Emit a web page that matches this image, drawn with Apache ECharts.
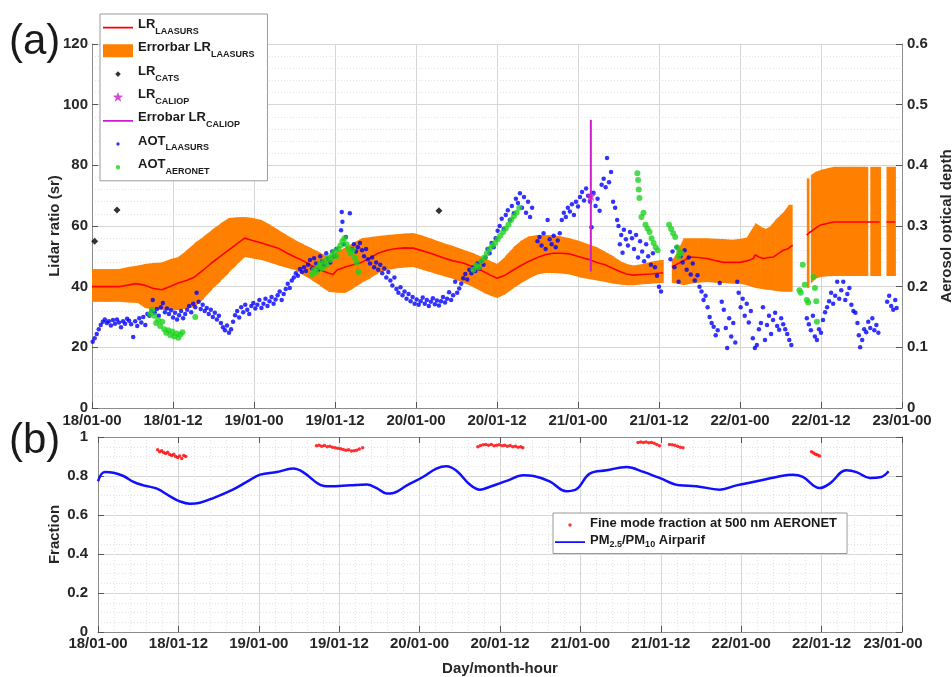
<!DOCTYPE html>
<html>
<head>
<meta charset="utf-8">
<script src="https://cdn.jsdelivr.net/npm/echarts@6/dist/echarts.min.js"></script>
<style>
  html, body { margin: 0; padding: 0; background: #ffffff; }
  #chart { width: 952px; height: 677px; }
</style>
</head>
<body>
<div id="chart"></div>
<script>
// All x positions are hours elapsed since 18/01 00:00.
const dayTickLabels = ['18/01-00', '18/01-12', '19/01-00', '19/01-12', '20/01-00', '20/01-12',
  '21/01-00', '21/01-12', '22/01-00', '22/01-12', '23/01-00'];

// LAASURS lidar ratio (sr); null breaks the line
const lrHour = [0, 2, 4, 5.3, 6.5, 7.8, 9, 10.3, 11.5, 12.75, 14, 15.2, 16.5, 17.7, 19, 20.2, 21.5, 22.6, 23.8, 25.1,
  26.4, 27.6, 28.8, 30.05, 31.3, 32.5, 33.8, 35, 35.7, 36.3, 37.5, 38.7, 39.9, 41.2, 42.4, 43.7, 44.9, 46.3, 47.6, 49,
  50.5, 52, 53.5, 55, 56.5, 58, 59, 60, 61.2, 62.4, 63.4, 64.6, 65.9, 67.1, 68.3, 69.5, 70.8, 72.3, 73.5, 74.8,
  76, 77.2, 78.2, 79.2, 80.2, 81.5, 82.8, 84.2, 84.6, 85.2, 85.9, 86.5, 87.6, 88.6, 89.8, 91.1, 92.3, 93.55, 94.8, 96,
  97, 98, 98.25, 98.8, 99.5, 100.2, 101, 101.7, 102.4, 103.1, 103.8, 104.8, 105.9, 106.2, 106.7, 107.3, 107.9, 108.9, 109.9, 111.5,
  113, 114.5, 116, 116.7, 117.2, 117.7, 119];
const lrValue = [40, 40, 40, 40.5, 41, 40.5, 39.5, 39, 40, 41.2, 42, 43.2, 45.5, 47.8, 50, 52, 54.2, 56, 55.2, 54.4,
  53.5, 52.7, 51.2, 49.8, 48.5, 47, 45.5, 44.5, 44, 45.5, 46.5, 47.2, 48, 49.5, 51, 52, 52.5, 52.8, 52.7, 51.8,
  50.8, 49.5, 48.5, 47.8, 46.5, 45, 43.8, 42.8, 43.8, 45.5, 46.8, 48.2, 49.5, 50.5, 51, 51, 50.8, 49.8, 49, 48,
  47.2, 46, 45, 44.2, 43.8, 44, 44.2, 44.5, 44.6, null, 46.5, 47.2, 48.5, 49.8, 49.6, 49.3, 48.6, 48, 48, 48,
  48.5, 49.3, 50.5, 49.8, 49.3, 49.6, 49.8, 51, 52, 52.5, 53.7, null, 57, 57.7, 58.5, 59.5, 60.3, 60.8, 61.3, 61.3,
  61.3, 61.3, 61.3, 61.3, null, 61.3, 61.3];

// LAASURS lidar ratio uncertainty bounds at bandHour[i]; a null bound closes a run
const bandHour = [0, 2, 4, 5.3, 6.8, 7.8, 9, 10.3, 11.5, 12.75, 14, 15.2, 16.5, 17.7, 19, 20.2, 21.4, 22.6, 23.8, 25.1,
  26.4, 27.6, 28.8, 30.05, 31.3, 32.5, 33.8, 35, 36.2, 37.5, 38.7, 39.9, 41.2, 42.4, 43.7, 44.9, 46.3, 47.6, 49, 50.5,
  52, 53.5, 55, 56.5, 58, 59, 60, 61.2, 62.4, 63.4, 64.6, 65.9, 67.1, 68.3, 69.5, 70.8, 72.3, 73.5, 74.8, 76,
  77.2, 78.2, 79.2, 80.2, 81.5, 82.8, 84.2, 84.7,
  85.9, 86.8, 87.6, 88.6, 89.8, 91.1, 92.3, 93.55, 94.8, 96, 97, 98.25, 99, 99.8, 100.5, 101.2, 101.9, 102.6, 103.2, 103.8,
  105.9, 106.3, 106.5, 107.1, 107.9, 108.9, 109.9, 111.5, 113, 114.5, 115.0, 115.3, 116, 116.9, 117.7, 119.1];
const bandLow = [35, 35, 35, 34.8, 34.6, 33, 32.5, 32.3, 32.3, 32.3, 32.8, 33.3, 36, 39, 41.8, 44.5, 47.2, 49.8, 49.3, 48.8,
  47.9, 47, 46.2, 45.5, 43.8, 42.2, 40.2, 38.3, 38, 37.9, 39.5, 41.2, 42.8, 44.5, 45.5, 46, 46.3, 46.5, 45.5, 44.5,
  43.5, 42.5, 41.3, 39.8, 38, 37, 36.3, 37.5, 39.5, 41, 42.5, 44, 44.5, 44.5, 44.3, 44, 43, 42.5, 42, 41.5,
  41, 40.7, 40.5, 40.5, 40.8, 41, 41.2, null,
  41.2, 41, 40.5, 41, 41.3, 41.5, 41.3, 41.2, 41, 41, 40.5, 39.6, 39.3, 39, 38.9, 38.6, 38.4, 38.3, 38.3, null,
  39.6, null, 41, 42.5, 43.2, 43.4, 43.5, 43.5, 43.5, 43.5, null, 43.5, 43.5, null, 43.5, null];
const bandHigh = [45.8, 45.8, 45.8, 46.5, 47, 47.5, 47.8, 48, 49, 49.8, 52, 54.4, 56.5, 58.7, 60.8, 62.6, 62.9, 63, 62.6, 62,
  60.3, 58.7, 57, 55.4, 54, 52.7, 51.2, 49.8, 51.5, 53, 54.5, 56, 56.4, 56.7, 57, 57.3, 57.5, 57.7, 56.8, 55.6,
  54.4, 53.4, 52.2, 51, 49.5, 48.5, 47.5, 50, 53, 55, 56.5, 57, 57, 57, 56.5, 56, 55, 54, 53, 51.5,
  50, 48.5, 47.5, 47, 47.5, 48.2, 48.8, null,
  48.5, 52, 56, 56, 56, 56, 55.8, 55.7, 55.5, 55.8, 56.2, 61, 59.8, 59, 60, 62, 63.5, 65, 67, null,
  75.7, null, 76.8, 77.8, 78.5, 79, 79.5, 79.5, 79.5, 79.5, null, 79.5, 79.5, null, 79.5, null];

// CATS and CALIOP lidar ratios (sr)
const catsHour = [0.4, 3.7, 51.4];
const catsLR = [55, 65.3, 65];
const caliopHour = [73.9];
const caliopLR = [70];
const caliopLow = [45];
const caliopHigh = [95];

// Aerosol optical thickness [hour, AOT]
const aotLaasurs = [
  [0.1, 0.109], [0.4, 0.115], [0.7, 0.122], [1.0, 0.13], [1.3, 0.137], [1.6, 0.142], [1.9, 0.146], [2.2, 0.14], [2.5, 0.143], [2.8, 0.136],
  [3.1, 0.145], [3.4, 0.139], [3.7, 0.146], [4.0, 0.141], [4.3, 0.133], [4.6, 0.143], [4.9, 0.139], [5.2, 0.147], [5.5, 0.144], [5.8, 0.138],
  [6.1, 0.117], [6.4, 0.143], [6.7, 0.135], [7.0, 0.148], [7.3, 0.141], [7.6, 0.15], [7.9, 0.137], [8.2, 0.155],
  [8.5, 0.152], [8.8, 0.16], [9.0, 0.178], [9.3, 0.157], [9.6, 0.163], [9.9, 0.152], [10.2, 0.166], [10.5, 0.173], [10.8, 0.158], [11.1, 0.164],
  [11.4, 0.155], [11.7, 0.161], [12.0, 0.149], [12.3, 0.157], [12.6, 0.146], [12.9, 0.153], [13.2, 0.16], [13.5, 0.148], [13.8, 0.155], [14.1, 0.162],
  [14.4, 0.168], [14.7, 0.158], [15.0, 0.172], [15.3, 0.166], [15.5, 0.19], [15.8, 0.175], [16.1, 0.163], [16.4, 0.17],
  [16.7, 0.16], [17.0, 0.165], [17.3, 0.155], [17.6, 0.162], [17.9, 0.15], [18.2, 0.157], [18.5, 0.146], [18.8, 0.152], [19.1, 0.14], [19.4, 0.133],
  [19.7, 0.128], [20.0, 0.136], [20.3, 0.124], [20.6, 0.13],
  [20.9, 0.142], [21.2, 0.153], [21.5, 0.16], [21.8, 0.149], [22.1, 0.166], [22.4, 0.158], [22.7, 0.17], [23.0, 0.162], [23.3, 0.155], [23.6, 0.168],
  [23.9, 0.173], [24.2, 0.164], [24.5, 0.17], [24.8, 0.178], [25.1, 0.165], [25.4, 0.172], [25.7, 0.18], [26.0, 0.168], [26.3, 0.176], [26.6, 0.183],
  [26.9, 0.172], [27.2, 0.179],
  [27.5, 0.186], [27.8, 0.192], [28.1, 0.178], [28.4, 0.188], [28.7, 0.196], [29.0, 0.205], [29.3, 0.198], [29.6, 0.21], [29.9, 0.215], [30.2, 0.222],
  [30.5, 0.218], [30.8, 0.229], [31.1, 0.224], [31.4, 0.232], [31.7, 0.226],
  [32.0, 0.236], [32.3, 0.244], [32.6, 0.23], [32.9, 0.247], [33.2, 0.238], [33.5, 0.228], [33.8, 0.25], [34.1, 0.242], [34.4, 0.235], [34.7, 0.255],
  [35.0, 0.246], [35.3, 0.24], [35.6, 0.258], [35.9, 0.25], [36.2, 0.262], [36.9, 0.293], [37.0, 0.323], [37.1, 0.307], [37.3, 0.27], [37.6, 0.282],
  [38.2, 0.321], [38.5, 0.262], [38.8, 0.27], [39.1, 0.258], [39.4, 0.265],
  [39.7, 0.272], [40.0, 0.26], [40.3, 0.25], [40.6, 0.262], [40.9, 0.245], [41.2, 0.238], [41.5, 0.248], [41.8, 0.232], [42.1, 0.24], [42.4, 0.228],
  [42.7, 0.236], [43.0, 0.222], [43.3, 0.23], [43.6, 0.215], [43.9, 0.224], [44.2, 0.21], [44.5, 0.202], [44.8, 0.215],
  [45.1, 0.196], [45.4, 0.19], [45.7, 0.199], [46.0, 0.186], [46.3, 0.192], [46.6, 0.18], [46.9, 0.188], [47.2, 0.176], [47.5, 0.183], [47.8, 0.172],
  [48.1, 0.179], [48.4, 0.17], [48.7, 0.176], [49.0, 0.182], [49.3, 0.172], [49.6, 0.178], [49.9, 0.168], [50.2, 0.175], [50.5, 0.181], [50.8, 0.171],
  [51.1, 0.177], [51.4, 0.169], [51.7, 0.176], [52.0, 0.183], [52.3, 0.174], [52.6, 0.18], [52.9, 0.191], [53.2, 0.178], [53.5, 0.186], [53.8, 0.208],
  [54.1, 0.19],
  [54.4, 0.197], [54.7, 0.205], [55.0, 0.214], [55.3, 0.221], [55.6, 0.212], [55.9, 0.228], [56.2, 0.222], [56.5, 0.232], [56.8, 0.226], [57.1, 0.238],
  [57.4, 0.23], [57.7, 0.242], [58.0, 0.236], [58.3, 0.248], [58.6, 0.262], [58.9, 0.255], [59.2, 0.272], [59.5, 0.265], [59.8, 0.28], [60.1, 0.292],
  [60.4, 0.3], [60.7, 0.312], [61.0, 0.295], [61.3, 0.318], [61.6, 0.326], [61.9, 0.31], [62.2, 0.333], [62.5, 0.321], [62.8, 0.345], [63.1, 0.338],
  [63.4, 0.354], [63.7, 0.33], [64.0, 0.348], [64.3, 0.322], [64.6, 0.34], [64.9, 0.315], [65.2, 0.33],
  [66.0, 0.275], [66.3, 0.282], [66.6, 0.268], [66.9, 0.288], [67.2, 0.262], [67.5, 0.31], [67.8, 0.278], [68.1, 0.27], [68.4, 0.284], [68.7, 0.265],
  [69.0, 0.276], [69.3, 0.288],
  [69.6, 0.31], [69.9, 0.322], [70.2, 0.315], [70.5, 0.33], [70.8, 0.324], [71.1, 0.336], [71.4, 0.318], [71.7, 0.34], [72.0, 0.332], [72.3, 0.348],
  [72.6, 0.356], [72.9, 0.342], [73.2, 0.362], [73.5, 0.35], [73.8, 0.34], [74.0, 0.298], [74.3, 0.355], [74.6, 0.333], [74.9, 0.345], [75.2, 0.325],
  [75.5, 0.368], [75.8, 0.378], [76.1, 0.364], [76.3, 0.412], [76.6, 0.372], [76.9, 0.389], [77.2, 0.34], [77.5, 0.33], [77.8, 0.31], [78.0, 0.3],
  [78.2, 0.27], [78.4, 0.285], [78.6, 0.256], [78.8, 0.294], [79.1, 0.278], [79.4, 0.268], [79.7, 0.29], [80.0, 0.28], [80.3, 0.262], [80.6, 0.285],
  [80.9, 0.248], [81.2, 0.275], [81.5, 0.258], [81.8, 0.242], [82.1, 0.27], [82.4, 0.25], [82.8, 0.236], [83.1, 0.255], [83.4, 0.232], [83.7, 0.218],
  [84.0, 0.2], [84.3, 0.192],
  [85.7, 0.245], [86.0, 0.258], [86.3, 0.232], [86.6, 0.265], [86.9, 0.208], [87.2, 0.25], [87.5, 0.24], [87.8, 0.26], [88.1, 0.228], [88.4, 0.248],
  [88.7, 0.22], [89.0, 0.238], [89.3, 0.21], [89.7, 0.219], [90.0, 0.2], [90.3, 0.192], [90.6, 0.178], [90.9, 0.185], [91.2, 0.166], [91.5, 0.15],
  [91.8, 0.14], [92.1, 0.134], [92.4, 0.12], [92.7, 0.128], [93.0, 0.206], [93.3, 0.175], [93.6, 0.162], [93.9, 0.132], [94.1, 0.099], [94.4, 0.148],
  [94.7, 0.118], [95.0, 0.14], [95.3, 0.108], [95.6, 0.208], [95.8, 0.19], [96.1, 0.166], [96.4, 0.18], [96.7, 0.152], [97.0, 0.172], [97.3, 0.141],
  [97.6, 0.16], [97.9, 0.115], [98.2, 0.099], [98.5, 0.104], [98.8, 0.13], [99.1, 0.14], [99.4, 0.166], [99.7, 0.112], [100.0, 0.137], [100.3, 0.152],
  [100.6, 0.122], [100.9, 0.145], [101.2, 0.157], [101.5, 0.135], [101.8, 0.129], [102.1, 0.148], [102.4, 0.138], [102.7, 0.13], [103.0, 0.122], [103.3, 0.112],
  [103.6, 0.104],
  [105.9, 0.148], [106.2, 0.138], [106.5, 0.128], [106.8, 0.152], [107.1, 0.118], [107.4, 0.112], [107.7, 0.13], [108.0, 0.124], [108.3, 0.145], [108.6, 0.158],
  [108.9, 0.166], [109.2, 0.176], [109.5, 0.19], [109.8, 0.172], [110.1, 0.185], [110.4, 0.208], [110.7, 0.18], [111.0, 0.194], [111.3, 0.208], [111.6, 0.178],
  [111.9, 0.188], [112.2, 0.198], [112.5, 0.17], [112.8, 0.16], [113.1, 0.157], [113.4, 0.14], [113.6, 0.12], [113.8, 0.1], [114.1, 0.112], [114.4, 0.13],
  [114.7, 0.125], [115.0, 0.142], [115.3, 0.132], [115.6, 0.148], [115.9, 0.128], [116.2, 0.137], [116.5, 0.124],
  [117.8, 0.175], [118.1, 0.185], [118.4, 0.168], [118.7, 0.162], [119.0, 0.178], [119.2, 0.165]
];
const aotAeronet = [
  [8.6, 0.155], [8.9, 0.162], [9.2, 0.152], [9.5, 0.14], [9.8, 0.145], [10.1, 0.135], [10.4, 0.142], [10.7, 0.13], [11.0, 0.124], [11.3, 0.128],
  [11.6, 0.12], [11.9, 0.126], [12.2, 0.118], [12.5, 0.123], [12.8, 0.116], [13.1, 0.121], [13.4, 0.125], [15.3, 0.15],
  [32.6, 0.22], [32.9, 0.228], [33.2, 0.224], [33.5, 0.232], [33.8, 0.238], [34.1, 0.23], [34.4, 0.242], [34.7, 0.236], [35.0, 0.248], [35.3, 0.244],
  [35.6, 0.252], [35.9, 0.258], [36.2, 0.25], [36.5, 0.262], [36.8, 0.268], [37.1, 0.275], [37.4, 0.28], [37.7, 0.27], [38.0, 0.262], [38.3, 0.255],
  [38.6, 0.26], [38.9, 0.248], [39.2, 0.24], [39.5, 0.224],
  [56.5, 0.228], [56.9, 0.235], [57.3, 0.232], [57.7, 0.242], [58.1, 0.248], [58.5, 0.255], [58.9, 0.262], [59.3, 0.268], [59.7, 0.272], [60.1, 0.278],
  [60.5, 0.284], [60.9, 0.29], [61.3, 0.296], [61.7, 0.302], [62.1, 0.31], [62.5, 0.316], [62.9, 0.322], [63.3, 0.33],
  [80.8, 0.387], [80.9, 0.376], [81.0, 0.36], [81.1, 0.346], [81.4, 0.315], [81.7, 0.322], [82.0, 0.302], [82.3, 0.296], [82.6, 0.29], [82.9, 0.28],
  [83.2, 0.272], [83.5, 0.265], [83.8, 0.26],
  [85.5, 0.302], [85.8, 0.295], [86.1, 0.288], [86.4, 0.282], [86.7, 0.265], [86.9, 0.25], [87.0, 0.258], [87.3, 0.255],
  [104.8, 0.194], [105.0, 0.19], [105.3, 0.236], [105.6, 0.203], [105.9, 0.178], [106.1, 0.174], [106.9, 0.216], [107.1, 0.198], [107.3, 0.176], [107.4, 0.142]
];

// Fine mode fraction at 500 nm (AERONET) [hour, fraction]
const fmfAeronet = [
  [8.9, 0.935], [9.2, 0.925], [9.5, 0.93], [9.8, 0.92], [10.1, 0.915], [10.4, 0.922], [10.7, 0.91], [11.0, 0.905], [11.3, 0.912], [11.6, 0.9],
  [11.9, 0.895], [12.2, 0.902], [12.5, 0.89], [12.8, 0.905], [13.1, 0.9],
  [32.6, 0.955], [33.0, 0.958], [33.4, 0.952], [33.8, 0.956], [34.2, 0.95], [34.6, 0.953], [35.0, 0.948], [35.4, 0.945], [35.8, 0.942], [36.2, 0.94],
  [36.6, 0.936], [37.0, 0.932], [37.4, 0.935], [37.8, 0.928], [38.2, 0.93], [38.6, 0.932], [39.0, 0.938], [39.5, 0.945],
  [56.7, 0.95], [57.1, 0.956], [57.5, 0.96], [57.9, 0.962], [58.3, 0.958], [58.7, 0.962], [59.1, 0.955], [59.5, 0.958], [59.9, 0.96], [60.3, 0.955],
  [60.7, 0.958], [61.1, 0.952], [61.5, 0.956], [61.9, 0.95], [62.3, 0.953], [62.7, 0.948], [63.1, 0.95], [63.4, 0.945],
  [80.6, 0.972], [81.0, 0.975], [81.4, 0.972], [81.8, 0.974], [82.2, 0.97], [82.6, 0.972], [83.0, 0.968], [83.4, 0.962], [83.8, 0.955],
  [85.3, 0.962], [85.7, 0.96], [86.1, 0.958], [86.5, 0.952], [86.9, 0.948], [87.3, 0.945],
  [106.5, 0.925], [106.8, 0.918], [107.1, 0.912], [107.4, 0.908], [107.7, 0.902]
];

// PM2.5 / PM10 ratio from Airparif [hour, ratio]
const pmRatio = [
  [0, 0.773], [1, 0.82], [2.3, 0.817], [3.8, 0.8], [5.3, 0.77], [6.8, 0.752], [8.8, 0.735], [10.7, 0.697], [12.2, 0.67], [13.7, 0.658],
  [15.2, 0.663], [17.2, 0.687], [20.2, 0.732], [22.2, 0.77], [24.2, 0.807], [26.7, 0.82], [29.1, 0.838], [30.6, 0.82], [33.1, 0.756], [34.6, 0.747],
  [37.6, 0.752], [40.1, 0.756], [41.6, 0.738], [43.1, 0.71], [44.1, 0.713], [46.1, 0.752], [48.5, 0.795], [50.5, 0.838], [52, 0.85], [53.5, 0.827],
  [55.5, 0.756], [57, 0.73], [58.5, 0.745], [61, 0.775], [63.5, 0.804], [65, 0.8], [67.4, 0.773], [69.9, 0.722], [71.4, 0.732], [73.4, 0.812],
  [75.9, 0.829], [78.9, 0.846], [81.4, 0.821], [83.8, 0.79], [86.8, 0.752], [89.3, 0.748], [92.8, 0.73], [95.3, 0.752], [98.3, 0.773], [101.3, 0.795],
  [103.7, 0.807], [105.2, 0.795], [107.7, 0.738], [109.2, 0.761], [111.7, 0.829], [113.2, 0.82], [115.2, 0.79], [116.9, 0.795], [118, 0.824]
];

// ---- styling ----
const FONT = 'Liberation Sans, Arial, Helvetica, sans-serif';
const TXT = '#262626';
const AXIS = '#8c8c8c';
const GRID_MAJOR = '#d6d6d6';
const GRID_MINOR = '#e3e3e3';
const labelStyle = { color: TXT, fontFamily: FONT, fontWeight: 'bold', fontSize: 15 };
const nameStyle = { color: TXT, fontFamily: FONT, fontWeight: 'bold', fontSize: 15 };

// legend icons drawn in a 30x14 box (two invisible corner specks fix the box size)
const BOX = 'M0,0h0.01v0.01h-0.01zM29.99,13.99h0.01v0.01h-0.01z';
const ICON_LINE = 'path://' + BOX + 'M0,6.2h30v1.8h-30z';
const ICON_RECT = 'path://' + BOX + 'M0,0.5h30v13h-30z';
const ICON_DIAMOND = 'path://' + BOX + 'M15,4.2L17.8,7L15,9.8L12.2,7z';
const STAR = 'M15,1.5L16.29,5.22L20.23,5.3L17.09,7.68L18.23,11.45L15,9.2L11.77,11.45L12.91,7.68L9.77,5.3L13.71,5.22Z';
const ICON_STAR = 'path://' + BOX + STAR;
const ICON_DOT = 'path://' + BOX + 'M13.3,7a1.7,1.7 0 1,0 3.4,0a1.7,1.7 0 1,0 -3.4,0z';
const ICON_DOT_BIG = 'path://' + BOX + 'M12.8,7a2.2,2.2 0 1,0 4.4,0a2.2,2.2 0 1,0 -4.4,0z';

const legendText = {
  'LR_LAASURS': '{m|LR}{s|LAASURS}',
  'Errorbar LR_LAASURS': '{m|Errorbar LR}{s|LAASURS}',
  'LR_CATS': '{m|LR}{s|CATS}',
  'LR_CALIOP': '{m|LR}{s|CALIOP}',
  'Errobar LR_CALIOP': '{m|Errobar LR}{s|CALIOP}',
  'AOT_LAASURS': '{m|AOT}{s|LAASURS}',
  'AOT_AERONET': '{m|AOT}{s|AERONET}',
  'FMF': '{m|Fine mode fraction at 500 nm AERONET}',
  'PM': '{m|PM}{s|2.5}{m|/PM}{s|10}{m| Airparif}'
};

// band pieces: [hourStart, hourEnd, lowStart, highStart, lowEnd, highEnd, joinsNext]
const bandData = [];
for (let i = 0; i < bandHour.length - 1; i++) {
  if (bandLow[i] == null) continue;
  const joins = bandLow[i + 1] != null;
  bandData.push([bandHour[i], bandHour[i + 1], bandLow[i], bandHigh[i],
    joins ? bandLow[i + 1] : bandLow[i], joins ? bandHigh[i + 1] : bandHigh[i], joins ? 1 : 0]);
}
const lrData = lrHour.map((h, i) => [h, lrValue[i]]);
const catsData = catsHour.map((h, i) => [h, catsLR[i]]);
const caliopData = caliopHour.map((h, i) => [h, caliopLR[i]]);
const caliopErrData = [[caliopHour[0], caliopLow[0]], [caliopHour[0], caliopHigh[0]]];

function hourLabel(v) {
  const k = Math.round(v / 12);
  return dayTickLabels[k] || '';
}

const chart = echarts.init(document.getElementById('chart'), null, { renderer: 'canvas' });

const option = {
  animation: false,
  backgroundColor: '#ffffff',
  textStyle: { fontFamily: FONT },
  grid: [
    { left: 92, right: 50, top: 44, height: 364, outerBoundsMode: 'none', containLabel: false },
    { left: 98, right: 50, top: 437, height: 195, outerBoundsMode: 'none', containLabel: false }
  ],
  xAxis: [
    {
      gridIndex: 0, type: 'value', position: 'bottom', min: 0, max: 120, interval: 12,
      axisLine: { show: true, onZero: false, lineStyle: { color: AXIS } },
      axisTick: { show: true, inside: true, length: 6, lineStyle: { color: '#555' } },
      axisLabel: Object.assign({}, labelStyle, { margin: 5, formatter: hourLabel }),
      splitLine: { show: true, lineStyle: { color: GRID_MAJOR, width: 1 } }
    },
    {
      gridIndex: 1, type: 'value', position: 'bottom', min: 0, max: 120, interval: 12,
      name: 'Day/month-hour', nameLocation: 'middle', nameGap: 29, nameMoveOverlap: false, nameTextStyle: nameStyle,
      axisLine: { show: true, onZero: false, lineStyle: { color: AXIS } },
      axisTick: { show: true, inside: true, length: 6, lineStyle: { color: '#555' } },
      axisLabel: Object.assign({}, labelStyle, {
        margin: 4,
        formatter: v => (v === 120 ? '{end|' + dayTickLabels[10] + '}' : hourLabel(v)),
        rich: { end: { color: TXT, fontFamily: FONT, fontWeight: 'bold', fontSize: 15, padding: [0, 18, 0, 0] } }
      }),
      splitLine: { show: true, lineStyle: { color: GRID_MAJOR } },
      minorTick: { show: false, splitNumber: 5 },
      minorSplitLine: { show: true, lineStyle: { color: GRID_MINOR, type: [1, 2] } }
    },
    {
      gridIndex: 1, type: 'value', position: 'top', min: 0, max: 120, interval: 12,
      axisLine: { show: true, onZero: false, lineStyle: { color: AXIS } },
      axisTick: { show: true, inside: true, length: 6, lineStyle: { color: '#555' } },
      axisLabel: { show: false }, splitLine: { show: false }
    }
  ],
  yAxis: [
    {
      gridIndex: 0, type: 'value', position: 'left', min: 0, max: 120, interval: 20,
      name: 'Lidar ratio (sr)', nameLocation: 'middle', nameGap: 30, nameRotate: 90, nameMoveOverlap: false, nameTextStyle: nameStyle,
      axisLine: { show: true, onZero: false, lineStyle: { color: AXIS } },
      axisTick: { show: true, inside: true, length: 6, lineStyle: { color: '#555' } },
      axisLabel: Object.assign({}, labelStyle, { margin: 4 }),
      splitLine: { show: true, lineStyle: { color: GRID_MAJOR } },
      minorTick: { show: false, splitNumber: 5 },
      minorSplitLine: { show: true, lineStyle: { color: GRID_MINOR, type: [1, 2] } }
    },
    {
      gridIndex: 0, type: 'value', position: 'right', min: 0, max: 0.6, interval: 0.1,
      name: 'Aerosol optical depth', nameLocation: 'middle', nameGap: 37, nameRotate: 90, nameMoveOverlap: false, nameTextStyle: nameStyle,
      axisLine: { show: true, onZero: false, lineStyle: { color: AXIS } },
      axisTick: { show: true, inside: true, length: 6, lineStyle: { color: '#555' } },
      axisLabel: Object.assign({}, labelStyle, { margin: 5 }),
      splitLine: { show: false }
    },
    {
      gridIndex: 1, type: 'value', position: 'left', min: 0, max: 1, interval: 0.2,
      name: 'Fraction', nameLocation: 'middle', nameGap: 36, nameRotate: 90, nameMoveOverlap: false, nameTextStyle: nameStyle,
      axisLine: { show: true, onZero: false, lineStyle: { color: AXIS } },
      axisTick: { show: true, inside: true, length: 6, lineStyle: { color: '#555' } },
      axisLabel: Object.assign({}, labelStyle, { margin: 10 }),
      splitLine: { show: true, lineStyle: { color: GRID_MAJOR } },
      minorTick: { show: false, splitNumber: 4 },
      minorSplitLine: { show: true, lineStyle: { color: GRID_MINOR, type: [1, 2] } }
    },
    {
      gridIndex: 1, type: 'value', position: 'right', min: 0, max: 1, interval: 0.2,
      axisLine: { show: true, onZero: false, lineStyle: { color: AXIS } },
      axisTick: { show: true, inside: true, length: 6, lineStyle: { color: '#555' } },
      axisLabel: { show: false }, splitLine: { show: false }
    }
  ],
  legend: [
    {
      left: 100, top: 14, orient: 'vertical', padding: [4, 13, 5, 3], itemGap: 5.3,
      itemWidth: 30, itemHeight: 14, selectedMode: false,
      backgroundColor: '#ffffff', borderColor: '#9a9a9a', borderWidth: 1,
      itemStyle: { borderWidth: 0 },
      formatter: name => legendText[name],
      textStyle: {
        color: '#1a1a1a', fontFamily: FONT, fontWeight: 'bold', fontSize: 13,
        rich: {
          m: { color: '#1a1a1a', fontFamily: FONT, fontWeight: 'bold', fontSize: 13, padding: [0, 0, 6, 0] },
          s: { color: '#1a1a1a', fontFamily: FONT, fontWeight: 'bold', fontSize: 9, padding: [8, 0, 0, 0] }
        }
      },
      data: [
        { name: 'LR_LAASURS', icon: ICON_LINE },
        { name: 'Errorbar LR_LAASURS', icon: ICON_RECT },
        { name: 'LR_CATS', icon: ICON_DIAMOND },
        { name: 'LR_CALIOP', icon: ICON_STAR },
        { name: 'Errobar LR_CALIOP', icon: ICON_LINE },
        { name: 'AOT_LAASURS', icon: ICON_DOT },
        { name: 'AOT_AERONET', icon: ICON_DOT_BIG }
      ]
    },
    {
      left: 553, top: 513, orient: 'vertical', padding: [4, 10, 4, 2], itemGap: 2,
      itemWidth: 30, itemHeight: 14, selectedMode: false,
      backgroundColor: '#ffffff', borderColor: '#9a9a9a', borderWidth: 1,
      itemStyle: { borderWidth: 0 },
      formatter: name => legendText[name],
      textStyle: {
        color: '#1a1a1a', fontFamily: FONT, fontWeight: 'bold', fontSize: 13,
        rich: {
          m: { color: '#1a1a1a', fontFamily: FONT, fontWeight: 'bold', fontSize: 13, padding: [0, 0, 3, 0] },
          s: { color: '#1a1a1a', fontFamily: FONT, fontWeight: 'bold', fontSize: 9, padding: [6, 0, 0, 0] }
        }
      },
      data: [
        { name: 'FMF', icon: ICON_DOT },
        { name: 'PM', icon: ICON_LINE }
      ]
    }
  ],
  graphic: [
    { type: 'text', left: 9, top: 21, style: { text: '(a)', fontFamily: FONT, fontSize: 42, fill: '#1a1a1a' } },
    { type: 'text', left: 9, top: 420, style: { text: '(b)', fontFamily: FONT, fontSize: 42, fill: '#1a1a1a' } }
  ],
  series: [
    {
      name: 'Errorbar LR_LAASURS', type: 'custom', xAxisIndex: 0, yAxisIndex: 0,
      data: bandData, encode: { x: [0, 1], y: [2, 3, 4, 5] },
      itemStyle: { color: '#ff8000' }, silent: true, z: 1,
      renderItem: function (params, api) {
        const a = api.coord([api.value(0), api.value(3)]);
        const b = api.coord([api.value(1), api.value(5)]);
        const c = api.coord([api.value(1), api.value(4)]);
        const d = api.coord([api.value(0), api.value(2)]);
        const pad = api.value(6) ? 0.6 : 0;
        return {
          type: 'polygon',
          shape: { points: [a, [b[0] + pad, b[1]], [c[0] + pad, c[1]], d] },
          style: { fill: '#ff8000' }
        };
      }
    },
    {
      name: 'LR_LAASURS', type: 'line', xAxisIndex: 0, yAxisIndex: 0, data: lrData,
      symbol: 'none', connectNulls: false, z: 2,
      itemStyle: { color: '#ff0000' }, lineStyle: { color: '#ff0000', width: 1.6 }
    },
    {
      name: 'AOT_LAASURS', type: 'scatter', xAxisIndex: 0, yAxisIndex: 1, data: aotLaasurs,
      symbol: 'circle', symbolSize: 4.5, itemStyle: { color: '#0000ff' }, z: 3
    },
    {
      name: 'AOT_AERONET', type: 'scatter', xAxisIndex: 0, yAxisIndex: 1, data: aotAeronet,
      symbol: 'circle', symbolSize: 6, itemStyle: { color: '#1fd21f' }, z: 4
    },
    {
      name: 'LR_CATS', type: 'scatter', xAxisIndex: 0, yAxisIndex: 0, data: catsData,
      symbol: 'diamond', symbolSize: 7, itemStyle: { color: '#000000' }, z: 5
    },
    {
      name: 'Errobar LR_CALIOP', type: 'line', xAxisIndex: 0, yAxisIndex: 0, data: caliopErrData,
      symbol: 'none', z: 5,
      itemStyle: { color: '#cc1ccc' }, lineStyle: { color: '#cc1ccc', width: 2 }
    },
    {
      name: 'LR_CALIOP', type: 'scatter', xAxisIndex: 0, yAxisIndex: 0, data: caliopData,
      symbol: 'path://' + STAR, symbolSize: 11, itemStyle: { color: '#cc1ccc' }, z: 6
    },
    {
      name: 'FMF', type: 'scatter', xAxisIndex: 1, yAxisIndex: 2, data: fmfAeronet,
      symbol: 'circle', symbolSize: 3.5, itemStyle: { color: '#ff0000' }, z: 3
    },
    {
      name: 'PM', type: 'line', xAxisIndex: 1, yAxisIndex: 2, data: pmRatio,
      symbol: 'none', smooth: 0.4, z: 3,
      itemStyle: { color: '#1010ff' }, lineStyle: { color: '#1010ff', width: 2.5 }
    }
  ]
};

chart.setOption(option);
</script>
</body>
</html>
